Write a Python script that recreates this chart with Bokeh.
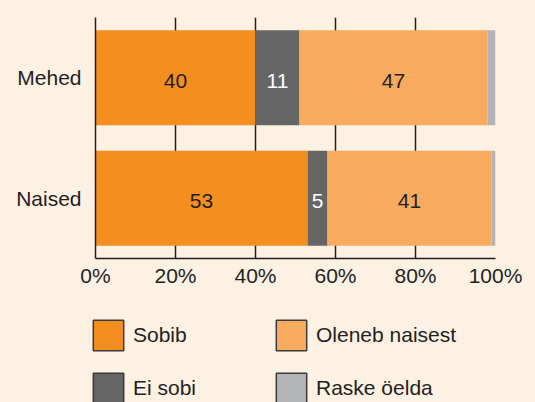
from bokeh.plotting import figure
from bokeh.models import (ColumnDataSource, FactorRange, Range1d, FixedTicker,
                          Legend, LegendItem)
from bokeh.core.properties import value
from bokeh.embed import file_html
from bokeh.resources import INLINE

# ---- data ----
groups = ["Mehed", "Naised"]
series = ["Sobib", "Ei sobi", "Oleneb naisest", "Raske öelda"]
sobib = [40, 53]
ei_sobi = [11, 5]
oleneb = [47, 41]
raske = [2, 2]
x_ticks = [0, 20, 40, 60, 80, 100]
x_tick_labels = ["0%", "20%", "40%", "60%", "80%", "100%"]

colors = ["#F48E1F", "#656565", "#F8AB5E", "#B3B4B6"]
label_colors = ["#231F20", "#FFFFFF", "#231F20", None]
bg = "#FDF1E4"
ink = "#231F20"
FONT = "Liberation Sans"
FS = "21px"

data = {"group": groups, series[0]: sobib, series[1]: ei_sobi,
        series[2]: oleneb, series[3]: raske}
src = ColumnDataSource(data)

p = figure(width=535, height=300, output_backend="svg", toolbar_location=None,
           y_range=FactorRange(factors=groups[::-1], range_padding=0),
           x_range=Range1d(0, 100),
           min_border_left=95, min_border_right=40, min_border_top=17,
           min_border_bottom=42)
p.background_fill_color = bg
p.border_fill_color = bg
p.outline_line_color = None

p.hbar_stack(series, y="group", height=0.79, color=colors,
             line_color=None, source=src)

# value labels
lab_x, lab_y, lab_t, lab_c = [], [], [], []
cols = [sobib, ei_sobi, oleneb, raske]
for gi, g in enumerate(groups):
    start = 0
    for si, c in enumerate(cols):
        v = c[gi]
        if label_colors[si] is not None:
            lab_x.append(start + v / 2)
            lab_y.append(g)
            lab_t.append(str(v))
            lab_c.append(label_colors[si])
        start += v
lsrc = ColumnDataSource(dict(x=lab_x, y=lab_y, t=lab_t, c=lab_c))
p.text(x="x", y="y", text="t", source=lsrc, text_color="c",
       text_align="center", text_baseline="middle", y_offset=3,
       text_font=value(FONT), text_font_size=FS)

# grid
p.xgrid.ticker = FixedTicker(ticks=x_ticks)
p.xgrid.grid_line_color = ink
p.xgrid.grid_line_width = 1.5
p.ygrid.grid_line_color = None

# axes
p.xaxis.ticker = FixedTicker(ticks=x_ticks)
p.xaxis.major_label_overrides = dict(zip(x_ticks, x_tick_labels))
p.xaxis.major_tick_out = 0
p.xaxis.major_tick_in = 0
p.xaxis.minor_tick_line_color = None
p.xaxis.axis_line_color = ink
p.xaxis.axis_line_width = 1.5
p.xaxis.major_label_standoff = 5
p.xaxis.major_label_text_font = FONT
p.xaxis.major_label_text_font_size = FS
p.xaxis.major_label_text_color = ink

p.yaxis.major_tick_out = 0
p.yaxis.major_tick_in = 0
p.yaxis.axis_line_color = ink
p.yaxis.axis_line_width = 1.5
p.yaxis.major_label_standoff = 14
p.yaxis.major_label_text_font = FONT
p.yaxis.major_label_text_font_size = FS
p.yaxis.major_label_text_color = ink

# ---- legend strip: separate root so it is not frame-aligned with p ----
q = figure(width=535, height=102, output_backend="svg", toolbar_location=None,
           x_axis_location=None, y_axis_location=None,
           y_range=FactorRange(factors=groups), x_range=Range1d(0, 100),
           min_border=0, min_border_left=0, min_border_right=0,
           min_border_top=0, min_border_bottom=0)
q.background_fill_color = bg
q.border_fill_color = bg
q.outline_line_color = None
q.grid.visible = False

leg_items = []
for name, col in zip(series, colors):
    r = q.hbar(y="group", right=name, left=0, height=0.5, source=src,
               fill_color=col, line_color="#3A3A3A", line_width=1.5,
               visible=False)
    leg_items.append(LegendItem(label=name, renderers=[r]))
legend = Legend(items=leg_items, orientation="vertical", nrows=2,
                location=(89, -5), glyph_width=38, glyph_height=38,
                spacing=15, label_standoff=6, label_width=124,
                padding=0, margin=0, border_line_color=None,
                background_fill_alpha=0,
                label_text_font=FONT, label_text_font_size=FS,
                label_text_color=ink)
q.add_layout(legend, "center")

html = file_html([p, q], INLINE)
html = html.replace("<head>", "<head><style>html,body{background:%s;overflow:hidden;}</style>" % bg, 1)
open("out.html", "w").write(html)
